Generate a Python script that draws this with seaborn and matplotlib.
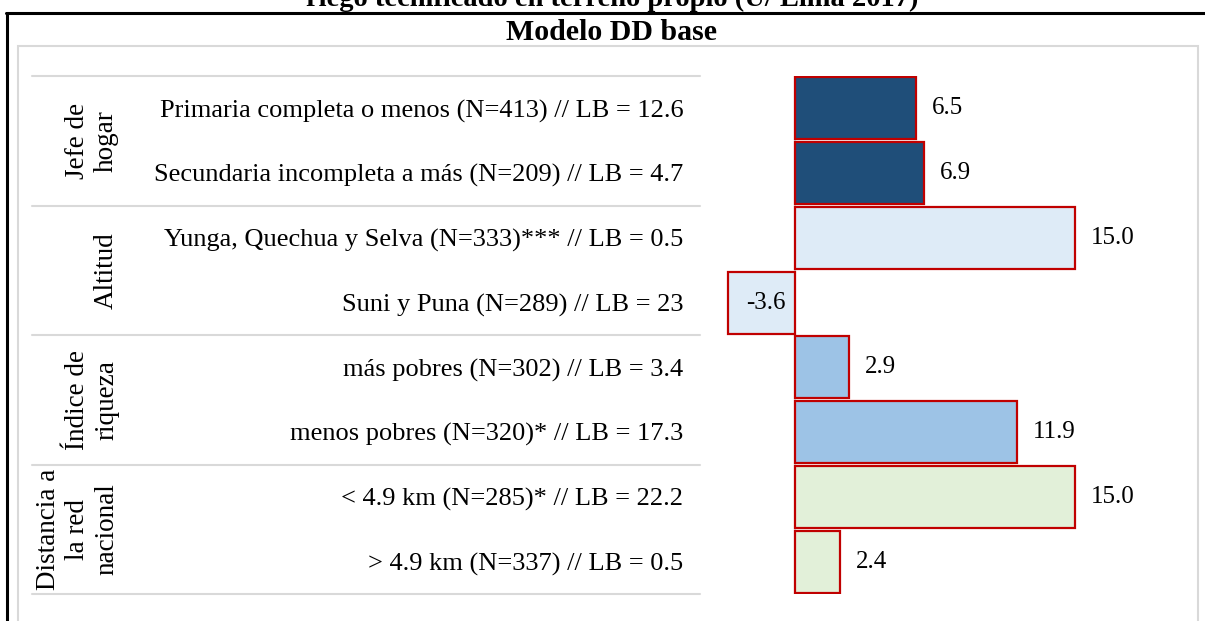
import matplotlib
matplotlib.use("Agg")
import matplotlib.pyplot as plt
import matplotlib.transforms as mtransforms
import pandas as pd
import seaborn as sns
from matplotlib.lines import Line2D
from matplotlib.patches import Rectangle

# data
labels = [
    "Primaria completa o menos (N=413) // LB = 12.6",
    "Secundaria incompleta a más (N=209) // LB = 4.7",
    "Yunga, Quechua y Selva (N=333)*** // LB = 0.5",
    "Suni y Puna (N=289) // LB = 23",
    "más pobres (N=302) // LB = 3.4",
    "menos pobres (N=320)* // LB = 17.3",
    "< 4.9 km (N=285)* // LB = 22.2",
    "> 4.9 km (N=337) // LB = 0.5",
]
values = [6.5, 6.9, 15.0, -3.6, 2.9, 11.9, 15.0, 2.4]
groups = ["Jefe de\nhogar", "Jefe de\nhogar", "Altitud", "Altitud",
          "Índice de\nriqueza", "Índice de\nriqueza",
          "Distancia a\nla red\nnacional", "Distancia a\nla red\nnacional"]
group_names = ["Jefe de\nhogar", "Altitud", "Índice de\nriqueza",
               "Distancia a\nla red\nnacional"]
group_colors = ["#1F4E79", "#DEEBF7", "#9DC3E6", "#E2F0D9"]

W, H = 1205, 621
sns.set_theme(style="white")
plt.rcParams["font.family"] = ["Liberation Serif", "DejaVu Serif"]
plt.rcParams["text.color"] = "black"
plt.rcParams["ytick.color"] = "black"

df = pd.DataFrame({"label": labels, "value": values, "group": groups})

fig = plt.figure(figsize=(W / 100, H / 100), dpi=100)


def fx(x):
    return x / W


def fy(y):
    return 1 - y / H


# page frame and title pieces
fig.add_artist(Line2D([fx(6), fx(1205)], [fy(13), fy(13)], color="black", lw=2.2))
fig.add_artist(Line2D([fx(7.5), fx(7.5)], [fy(13), fy(625)], color="black", lw=2.2))
fig.text(fx(612), fy(6), "riego tecnificado en terreno propio (U/ Lima 2017)",
         ha="center", va="baseline", fontsize=20.5, fontweight="bold")
fig.text(fx(611), fy(32), "Modelo DD base", ha="center", va="center",
         fontsize=21.5, fontweight="bold")
fig.add_artist(Rectangle((fx(18), fy(640)), fx(1198) - fx(18), fy(46) - fy(640),
                         transform=fig.transFigure, fill=False,
                         edgecolor="#D9D9D9", lw=1.5))

# bar area
ax = fig.add_axes([fx(700), fy(594), fx(1195) - fx(700), fy(76) - fy(594)])
sns.barplot(data=df, x="value", y="label", hue="group", hue_order=group_names,
            palette=dict(zip(group_names, group_colors)), dodge=False, saturation=1,
            width=0.96, edgecolor="#C00000", linewidth=1.6, legend=False, ax=ax)
ax.set_xlim(-5.09, 21.43)
ax.set_ylim(7.5, -0.5)
ax.axvline(0, color="#D9D9D9", lw=1.5, zorder=0.5)
for side in ax.spines.values():
    side.set_visible(False)
ax.set_xticks([])
ax.set_xlabel("")
ax.set_ylabel("")
ax.tick_params(axis="y", length=0, pad=12, labelsize=19)

for i, v in enumerate(values):
    if v >= 0:
        ax.annotate(f"{v:.1f}", (v, i), xytext=(11.5, 0), textcoords="offset points",
                    ha="left", va="center", fontsize=18)
    else:
        ax.annotate(f"{v:.1f}", (0, i), xytext=(-7, 0), textcoords="offset points",
                    ha="right", va="center", fontsize=18)

# group separators and rotated group names
blend = mtransforms.blended_transform_factory(fig.transFigure, ax.transData)
for b in [-0.5, 1.5, 3.5, 5.5, 7.5]:
    ax.add_line(Line2D([fx(32), fx(700)], [b, b], transform=blend, color="#D9D9D9",
                       lw=1.5, clip_on=False))
for k, name in enumerate(group_names):
    ax.text(fx(119), 2 * k + 0.5, name, transform=blend, rotation=90, ha="right",
            va="center", multialignment="center", fontsize=19.5, linespacing=1.2)

fig.savefig("out.png", dpi=100)
